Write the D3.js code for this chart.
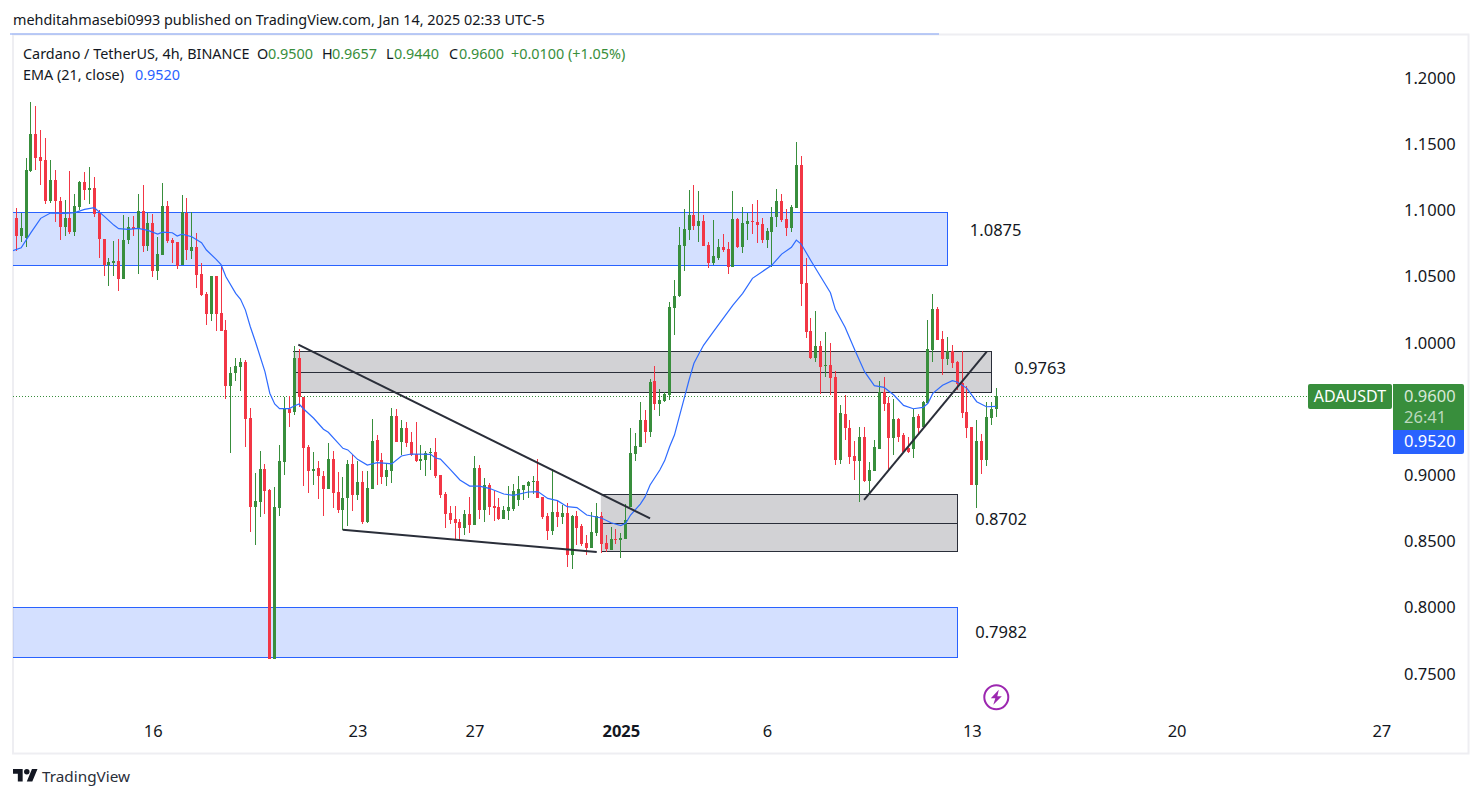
<!DOCTYPE html>
<html>
<head>
<meta charset="utf-8">
<script src="https://cdn.jsdelivr.net/npm/d3@7"></script>
<style>
  html, body { margin: 0; padding: 0; background: #fff; overflow: hidden; }
  svg { display: block; font-family: "Noto Sans", sans-serif; }
</style>
</head>
<body>
<div id="chart"></div>
<script>
// 4h candles
const opens = [
  1.0942,1.0806,1.0791,1.1297,1.1577,1.1403,1.1380,1.1071,1.1229,1.1071,
  1.0874,1.0942,1.0836,1.1025,1.1214,1.1154,1.1169,1.0980,1.0784,1.0585,
  1.0602,1.0617,1.0482,1.0776,1.0874,1.0859,1.0995,1.0731,1.0904,1.0542,
  1.0663,1.1033,1.0776,1.0761,1.0585,1.0980,1.0693,1.0723,1.0519,1.0368,
  1.0217,1.0504,1.0225,1.0096,0.9674,0.9772,0.9818,0.9855,0.9432,0.8760,
  0.8798,0.9047,0.8889,0.7615,0.8753,0.9100,0.9500,0.9478,0.9886,0.9591,
  0.9213,0.9032,0.9055,0.8994,0.8896,0.9123,0.8873,0.8737,0.8828,0.9085,
  0.8851,0.8949,0.8647,0.8896,0.9266,0.9115,0.8987,0.9032,0.9447,0.9251,
  0.9357,0.9251,0.9160,0.9108,0.9115,0.9168,0.9176,0.9001,0.8858,0.8714,
  0.8669,0.8646,0.8601,0.8707,0.8624,0.9054,0.8737,0.8926,0.8767,0.8760,
  0.8669,0.8730,0.8745,0.8813,0.8888,0.8918,0.8949,0.8956,0.8835,0.8692,
  0.8579,0.8722,0.8684,0.8714,0.8397,0.8692,0.8616,0.8488,0.8450,0.8563,
  0.8692,0.8488,0.8435,0.8518,0.8511,0.8518,0.8760,0.9160,0.9213,0.9417,
  0.9326,0.9711,0.9538,0.9560,0.9606,1.0263,1.0353,1.0731,1.0852,1.0965,
  1.0882,1.0920,1.0738,1.0602,1.0640,1.0723,1.0708,1.0572,1.0935,1.0723,
  1.0897,1.0920,1.0912,1.0897,1.0776,1.0837,1.0950,1.1071,1.0935,1.0867,
  1.1018,1.1343,1.0451,1.0089,0.9885,0.9976,0.9825,0.9832,0.9741,0.9115,
  0.9462,0.9356,0.9145,0.9107,0.9288,0.8956,0.9031,0.9198,0.9628,0.9545,
  0.9281,0.9424,0.9303,0.9205,0.9198,0.9447,0.9364,0.9545,0.9945,1.0255,
  1.0028,0.9877,0.9938,0.9855,0.9696,0.9477,0.9364,0.8926,0.9258,0.9115,
  0.9432,0.9500
];
const highs = [
  1.1018,1.0983,1.1395,1.1818,1.1788,1.1607,1.1546,1.1380,1.1305,1.1101,
  1.1078,1.1297,1.1124,1.1222,1.1290,1.1327,1.1252,1.1003,1.0784,1.0640,
  1.0769,1.0784,1.0965,1.0950,1.0957,1.1124,1.1191,1.0980,1.0972,1.0799,
  1.1207,1.1071,1.0791,1.0761,1.1116,1.1093,1.0988,1.0829,1.0602,1.0383,
  1.0504,1.0504,1.0587,1.0172,0.9818,0.9886,0.9886,0.9870,0.9508,0.9017,
  0.9183,0.9085,0.8896,0.8911,0.9228,0.9591,0.9599,0.9976,0.9953,0.9591,
  0.9228,0.9176,0.9108,0.9032,0.9244,0.9183,0.9024,0.8987,0.9115,0.9153,
  0.9108,0.9032,0.9032,0.9425,0.9304,0.9168,0.9092,0.9508,0.9500,0.9417,
  0.9402,0.9327,0.9402,0.9228,0.9183,0.9206,0.9281,0.9001,0.8873,0.8767,
  0.8767,0.8669,0.8737,0.8835,0.9145,0.9077,0.8979,0.8941,0.8881,0.8828,
  0.8767,0.8918,0.8934,0.8994,0.8926,0.8956,0.8994,0.9122,0.8835,0.8714,
  0.9047,0.8805,0.8775,0.8790,0.8699,0.8730,0.8631,0.8548,0.8722,0.8790,
  0.8722,0.8548,0.8609,0.8594,0.8563,0.8782,0.9356,0.9319,0.9553,0.9492,
  0.9726,0.9825,0.9651,0.9628,1.0308,1.0474,1.0874,1.1010,1.1154,1.1192,
  1.1146,1.0965,1.0761,1.0927,1.0784,1.0822,1.0761,1.1146,1.0942,1.1025,
  1.0980,1.1048,1.1078,1.0942,1.0867,1.1025,1.1161,1.1124,1.1010,1.1041,
  1.1516,1.1411,1.0640,1.0187,1.0240,1.0013,1.0081,0.9998,0.9787,0.9530,
  0.9606,0.9417,0.9258,0.9364,0.9364,0.9099,0.9266,0.9711,0.9741,0.9590,
  0.9575,0.9432,0.9319,0.9288,0.9500,0.9462,0.9560,1.0172,1.0368,1.0270,
  1.0089,1.0044,0.9983,0.9862,0.9938,0.9673,0.9364,0.9417,0.9311,0.9553,
  0.9553,0.9657
];
const lows = [
  1.0696,1.0761,1.0726,1.1290,1.1305,1.1191,1.1048,1.1056,1.0912,1.0776,
  1.0806,1.0821,1.0806,1.1003,1.1078,1.1048,1.0947,1.0640,1.0504,1.0429,
  1.0504,1.0391,1.0482,1.0746,1.0806,1.0519,1.0685,1.0693,1.0497,1.0474,
  1.0663,1.0753,1.0602,1.0557,1.0585,1.0625,1.0633,1.0414,1.0353,1.0134,
  1.0164,1.0089,1.0089,0.9576,0.9168,0.9712,0.9636,0.9213,0.8571,0.8473,
  0.8685,0.8707,0.7615,0.7615,0.8692,0.9002,0.9364,0.9455,0.9515,0.8919,
  0.8866,0.8926,0.8821,0.8692,0.8896,0.8753,0.8715,0.8586,0.8617,0.8730,
  0.8813,0.8632,0.8639,0.8896,0.8926,0.8934,0.8919,0.8941,0.9251,0.9153,
  0.9213,0.9145,0.9100,0.9040,0.8994,0.9040,0.8979,0.8828,0.8601,0.8631,
  0.8516,0.8503,0.8548,0.8563,0.8624,0.8669,0.8646,0.8699,0.8654,0.8662,
  0.8669,0.8662,0.8730,0.8767,0.8813,0.8828,0.8858,0.8828,0.8669,0.8511,
  0.8548,0.8609,0.8631,0.8307,0.8292,0.8473,0.8465,0.8397,0.8450,0.8541,
  0.8412,0.8420,0.8435,0.8480,0.8375,0.8518,0.8760,0.9107,0.9213,0.9243,
  0.9288,0.9492,0.9447,0.9553,0.9568,1.0059,1.0346,1.0542,1.0776,1.0852,
  1.0761,1.0731,1.0565,1.0587,1.0625,1.0686,1.0519,1.0572,1.0716,1.0678,
  1.0776,1.0822,1.0754,1.0754,1.0716,1.0572,1.0874,1.0912,1.0806,1.0837,
  1.1018,1.0278,1.0036,0.9877,0.9855,0.9613,0.9741,0.9606,0.9077,0.9084,
  0.9266,0.9084,0.8964,0.8797,0.8948,0.8850,0.9031,0.9198,0.9485,0.9039,
  0.9152,0.9251,0.9167,0.9167,0.9130,0.9311,0.9364,0.9545,0.9855,1.0021,
  0.9757,0.9832,0.9809,0.9643,0.9432,0.9281,0.8926,0.8752,0.9009,0.9069,
  0.9379,0.9440
];
const closes = [
  1.0806,1.0867,1.1305,1.1577,1.1395,1.1373,1.1071,1.1229,1.1071,1.0874,
  1.0942,1.0836,1.1033,1.1214,1.1154,1.1169,1.0972,1.0784,1.0585,1.0610,
  1.0617,1.0482,1.0776,1.0874,1.0859,1.0995,1.0731,1.0904,1.0542,1.0670,
  1.1033,1.0769,1.0753,1.0580,1.0988,1.0701,1.0723,1.0512,1.0361,1.0217,
  1.0504,1.0217,1.0089,0.9674,0.9772,0.9825,0.9855,0.9425,0.8760,0.8805,
  0.9047,0.8881,0.7615,0.8760,0.9108,0.9500,0.9470,0.9886,0.9591,0.9206,
  0.9032,0.9047,0.8994,0.8896,0.9123,0.8866,0.8737,0.8828,0.9085,0.8851,
  0.8949,0.8647,0.8904,0.9259,0.9108,0.8987,0.9040,0.9447,0.9251,0.9357,
  0.9244,0.9153,0.9108,0.9123,0.9168,0.9176,0.8994,0.8850,0.8707,0.8662,
  0.8639,0.8601,0.8707,0.8624,0.9054,0.8737,0.8926,0.8760,0.8752,0.8669,
  0.8737,0.8760,0.8881,0.8896,0.8926,0.8949,0.8956,0.8828,0.8684,0.8579,
  0.8722,0.8684,0.8714,0.8397,0.8692,0.8601,0.8480,0.8450,0.8571,0.8692,
  0.8480,0.8443,0.8518,0.8511,0.8526,0.8662,0.9168,0.9221,0.9417,0.9326,
  0.9704,0.9538,0.9568,0.9613,1.0270,1.0353,1.0738,1.0859,1.0965,1.0882,
  1.0920,1.0731,1.0602,1.0655,1.0723,1.0701,1.0572,1.0935,1.0723,1.0905,
  1.0920,1.0912,1.0889,1.0776,1.0844,1.0950,1.1071,1.0927,1.0867,1.1025,
  1.1343,1.0444,1.0081,0.9885,0.9976,0.9817,0.9832,0.9734,0.9115,0.9470,
  0.9356,0.9137,0.9107,0.9288,0.8956,0.9039,0.9213,0.9628,0.9538,0.9281,
  0.9424,0.9288,0.9175,0.9175,0.9439,0.9356,0.9553,0.9953,1.0255,1.0021,
  0.9877,0.9938,0.9847,0.9689,0.9470,0.9356,0.8926,0.9258,0.9115,0.9439,
  0.9500,0.9600
];

// EMA (21, close), sampled at these candle numbers
const emaIndex = [
  -1,1,3,5,7,10,12,14,16,18,20,21,23,25,27,29,30,32,33,34,36,38,39,41,42,43,45,46,47,48,
  49,51,52,53,54,56,57,58,59,61,63,64,67,68,70,72,74,76,77,79,81,85,86,
  87,89,91,93,95,97,100,102,105,107,109,111,113,115,117,120,122,124,125,126,128,129,130,132,133,134,
  135,136,137,138,139,140,141,143,145,147,149,151,153,155,157,159,160,161,163,165,
  167,168,170,172,174,176,178,180,182,184,186,187,188,190,192,193,195,197,199,201
];
const emaValues = [
  1.0691,1.0718,1.0832,1.0940,1.0980,1.0978,1.0983,1.1008,1.1020,1.0957,1.0889,1.0862,1.0857,1.0864,1.0849,1.0821,1.0836,1.0831,1.0806,1.0821,1.0801,1.0756,1.0701,1.0630,1.0590,1.0499,1.0373,1.0328,1.0247,1.0121,
  1.0014,0.9782,0.9619,0.9538,0.9503,0.9503,0.9523,0.9538,0.9498,0.9430,0.9347,0.9324,0.9203,0.9191,0.9120,0.9077,0.9095,0.9090,0.9085,0.9145,0.9160,0.9158,0.9130,
  0.9122,0.9044,0.8964,0.8918,0.8918,0.8901,0.8858,0.8848,0.8873,0.8876,0.8825,0.8808,0.8762,0.8755,0.8699,0.8677,0.8641,0.8619,0.8636,0.8699,0.8782,0.8838,0.8926,0.9039,0.9110,0.9215,
  0.9303,0.9442,0.9580,0.9719,0.9845,0.9915,0.9983,1.0084,1.0185,1.0285,1.0373,1.0487,1.0537,1.0587,1.0670,1.0721,1.0776,1.0746,1.0620,1.0499,
  1.0378,1.0253,1.0117,0.9945,0.9782,0.9676,0.9663,0.9606,0.9527,0.9502,0.9512,0.9543,0.9618,0.9679,0.9714,0.9704,0.9656,0.9555,0.9517,0.9520
];

// axes (the 0.95 tick is hidden by the price labels)
const priceTicks = [1.2, 1.15, 1.1, 1.05, 1, 0.9, 0.85, 0.8, 0.75];
const timeTickIndex = [28, 70, 94, 124, 154, 196, 238, 280];
const timeTickLabels = ["16", "23", "27", "2025", "6", "13", "20", "27"];

// drawn zones
const blueZones = [
  { from: -2, to: 191, top: 1.0983, bottom: 1.0581 },
  { from: -2, to: 193, top: 0.8002, bottom: 0.7625 }
];
const grayZones = [
  { from: 56.8, to: 200.1, top: 0.9936, mid: 0.9777, bottom: 0.9626 },
  { from: 119.9, to: 193, top: 0.8856, mid: 0.8637, bottom: 0.8425 }
];
const trendLines = [
  [[57.85, 0.9986], [130, 0.8674]],
  [[66.95, 0.8588], [119.06, 0.8420]],
  [[173.9, 0.8813], [199.06, 0.9933]]
];
const levelLabels = [
  { text: "1.0875", i: 195.6, p: 1.0852 },
  { text: "0.9763", i: 204.7, p: 0.9807 },
  { text: "0.8702", i: 196.7, p: 0.8665 },
  { text: "0.7982", i: 196.7, p: 0.7815 }
];

const lastPrice = 0.96;

const width = 1482;
const height = 798;
const plot = { left: 13, right: 1468, top: 35, bottom: 753 };
const upColor = "#388e3c";
const downColor = "#f23645";
const emaColor = "#2962ff";
const inkColor = "#131722";
const toolColor = "#2a2e39";

const svg = d3.select("#chart").append("svg")
  .attr("width", width)
  .attr("height", height);

svg.append("defs").append("clipPath").attr("id", "plot-clip")
  .append("rect")
  .attr("x", plot.left).attr("y", plot.top)
  .attr("width", plot.right - plot.left).attr("height", plot.bottom - plot.top);

const x = d3.scaleLinear().domain([0, 201]).range([16.3, 996.2]);
const y = d3.scaleLinear().domain([0.75, 1.2]).range([673.8, 78]);

// frame
svg.append("rect")
  .attr("x", 13).attr("y", 34.5)
  .attr("width", 1455.5).attr("height", 719)
  .attr("fill", "none").attr("stroke", "#eeeef2").attr("stroke-width", 2);
svg.append("line")
  .attr("x1", 10).attr("x2", 939).attr("y1", 34).attr("y2", 34)
  .attr("stroke", "#7f9ff5").attr("stroke-width", 1);

const pane = svg.append("g").attr("clip-path", "url(#plot-clip)");

// zones
pane.selectAll(".blue-zone").data(blueZones).enter().append("rect")
  .attr("class", "blue-zone")
  .attr("x", d => x(d.from)).attr("width", d => x(d.to) - x(d.from))
  .attr("y", d => y(d.top)).attr("height", d => y(d.bottom) - y(d.top))
  .attr("fill", "rgba(41,98,255,0.2)").attr("stroke", emaColor).attr("stroke-width", 1)
  .attr("shape-rendering", "crispEdges");

// gray zones have no left edge
pane.selectAll(".gray-fill").data(grayZones).enter().append("rect")
  .attr("class", "gray-fill")
  .attr("x", d => x(d.from)).attr("width", d => x(d.to) - x(d.from))
  .attr("y", d => y(d.top)).attr("height", d => y(d.bottom) - y(d.top))
  .attr("fill", "#d2d2d5");
pane.selectAll(".gray-edge").data(grayZones).enter().append("path")
  .attr("class", "gray-edge")
  .attr("d", d => `M${x(d.from)},${y(d.top)}H${x(d.to)}V${y(d.bottom)}H${x(d.from)}M${x(d.from)},${y(d.mid)}H${x(d.to)}`)
  .attr("fill", "none").attr("stroke", toolColor).attr("stroke-width", 1)
  .attr("shape-rendering", "crispEdges");

// last price line
pane.append("line")
  .attr("x1", plot.left).attr("x2", 1308)
  .attr("y1", Math.round(y(lastPrice)) + 0.5).attr("y2", Math.round(y(lastPrice)) + 0.5)
  .attr("stroke", upColor).attr("stroke-width", 1).attr("stroke-dasharray", "1 2");

// candles
const candles = opens.map((o, i) => ({ i, o, h: highs[i], l: lows[i], c: closes[i] }));
const candle = pane.append("g").attr("shape-rendering", "crispEdges")
  .selectAll("g").data(candles).enter().append("g")
  .attr("fill", d => d.c >= d.o ? upColor : downColor);
candle.append("rect")
  .attr("x", d => Math.floor(x(d.i))).attr("width", 1)
  .attr("y", d => y(d.h)).attr("height", d => y(d.l) - y(d.h));
candle.append("rect")
  .attr("x", d => Math.floor(x(d.i)) - 1).attr("width", 3)
  .attr("y", d => y(Math.max(d.o, d.c)))
  .attr("height", d => Math.max(1, Math.abs(y(d.o) - y(d.c))));

// ema
const emaLine = d3.line().x(d => x(d[0])).y(d => y(d[1]));
pane.append("path")
  .datum(emaIndex.map((d, k) => [d, emaValues[k]]))
  .attr("d", emaLine)
  .attr("fill", "none").attr("stroke", "#2e6bff").attr("stroke-width", 1.2);

// trend lines
pane.selectAll(".trend").data(trendLines).enter().append("line")
  .attr("class", "trend")
  .attr("x1", d => x(d[0][0])).attr("y1", d => y(d[0][1]))
  .attr("x2", d => x(d[1][0])).attr("y2", d => y(d[1][1]))
  .attr("stroke", toolColor).attr("stroke-width", 2);

// level labels next to the zones
pane.selectAll(".level").data(levelLabels).enter().append("text")
  .attr("class", "level")
  .attr("x", d => x(d.i)).attr("y", d => y(d.p))
  .attr("font-size", 16.5).attr("fill", inkColor).attr("dy", "0.35em")
  .text(d => d.text);

// price axis
const yAxis = svg.append("g")
  .attr("transform", "translate(1404,0)")
  .call(d3.axisRight(y).tickValues(priceTicks).tickSize(0).tickPadding(0).tickFormat(d3.format(".4f")));
yAxis.select(".domain").remove();
yAxis.selectAll("text").attr("font-size", 16.5).attr("font-family", "Noto Sans").attr("fill", inkColor);

// time axis
const xAxis = svg.append("g")
  .attr("transform", "translate(0,725)")
  .call(d3.axisBottom(x).tickValues(timeTickIndex).tickSize(0).tickPadding(0)
    .tickFormat((d, k) => timeTickLabels[k]));
xAxis.select(".domain").remove();
xAxis.selectAll("text")
  .attr("font-size", 16.5).attr("font-family", "Noto Sans").attr("fill", inkColor)
  .attr("font-weight", d => d === 124 ? 700 : 400);

// last price labels
svg.append("rect").attr("x", 1308).attr("y", 384).attr("width", 84).attr("height", 25)
  .attr("rx", 2).attr("fill", upColor);
svg.append("text").attr("x", 1350).attr("y", 402).attr("text-anchor", "middle")
  .attr("font-size", 16).attr("fill", "#fff").text("ADAUSDT");
svg.append("path").attr("d", "M1393 384H1462a2 2 0 0 1 2 2V430H1393Z").attr("fill", upColor);
svg.append("text").attr("x", 1404).attr("y", 402).attr("font-size", 16.5).attr("fill", "#d7e8d8").text("0.9600");
svg.append("text").attr("x", 1404).attr("y", 423).attr("font-size", 16.5).attr("fill", "#bcd8be").text("26:41");
svg.append("path").attr("d", "M1393 430H1464V452a2 2 0 0 1 -2 2H1393Z").attr("fill", emaColor);
svg.append("text").attr("x", 1404).attr("y", 447).attr("font-size", 16.5).attr("fill", "#fff").text("0.9520");

// header and legend
svg.append("text").attr("x", 13).attr("y", 25).attr("font-size", 14.4).attr("fill", inkColor)
  .text("mehditahmasebi0993 published on TradingView.com, Jan 14, 2025 02:33 UTC-5");

const legendParts = [
  { x: 23, text: "Cardano / TetherUS, 4h, BINANCE", fill: inkColor },
  { x: 257, text: "O", fill: inkColor }, { x: 268, text: "0.9500", fill: upColor },
  { x: 322, text: "H", fill: inkColor }, { x: 332, text: "0.9657", fill: upColor },
  { x: 386, text: "L", fill: inkColor }, { x: 394, text: "0.9440", fill: upColor },
  { x: 449, text: "C", fill: inkColor }, { x: 459, text: "0.9600", fill: upColor },
  { x: 511, text: "+0.0100 (+1.05%)", fill: upColor }
];
svg.selectAll(".legend").data(legendParts).enter().append("text")
  .attr("class", "legend")
  .attr("x", d => d.x).attr("y", 59)
  .attr("font-size", 14.4).attr("fill", d => d.fill)
  .text(d => d.text);
svg.append("text").attr("x", 23).attr("y", 80).attr("font-size", 14.4).attr("fill", inkColor).text("EMA (21, close)");
svg.append("text").attr("x", 135).attr("y", 80).attr("font-size", 14.4).attr("fill", emaColor).text("0.9520");

// lightning badge
const badge = svg.append("g").attr("transform", "translate(996.3,697.3)");
badge.append("circle").attr("r", 12).attr("fill", "#fff").attr("stroke", "#9c27b0").attr("stroke-width", 2);
badge.append("path").attr("d", "M2.5 -7.5 L-5.5 1 H-1 L-3 7.5 L5.5 -1 H1 Z").attr("fill", "#9c27b0");

// TradingView logo
const logo = svg.append("g").attr("transform", "translate(13,766.2) scale(0.69)").attr("fill", "#131722");
logo.append("path").attr("d", "M14 22H7V11H0V4h14v18ZM28 22h-8l7.5-18h8L28 22Z");
logo.append("circle").attr("cx", 20).attr("cy", 8).attr("r", 4);
svg.append("text").attr("x", 42).attr("y", 782).attr("font-size", 15.3).attr("fill", "#2a2e39").text("TradingView");
</script>
</body>
</html>
